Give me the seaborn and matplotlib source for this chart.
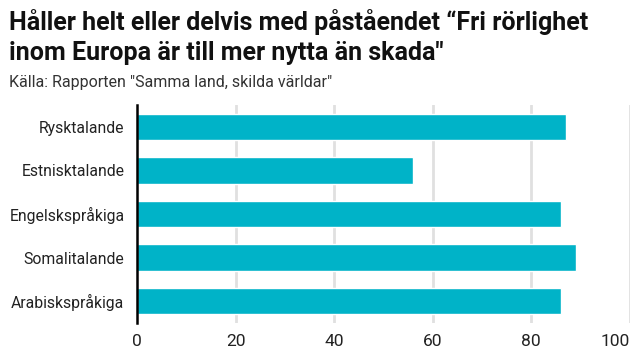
import matplotlib
matplotlib.use('Agg')
import matplotlib.pyplot as plt
import seaborn as sns
import pandas as pd

# data
groups = ['Rysktalande', 'Estnisktalande', 'Engelskspråkiga', 'Somalitalande', 'Arabiskspråkiga']
values = [87, 56, 86, 89, 86]
x_ticks = [0, 20, 40, 60, 80, 100]

title = 'Håller helt eller delvis med påståendet \u201cFri rörlighet\ninom Europa är till mer nytta än skada"'
subtitle = 'Källa: Rapporten "Samma land, skilda världar"'

sns.set_theme(style='white')
plt.rcParams['font.family'] = ['Roboto', 'DejaVu Sans']

df = pd.DataFrame({'group': groups, 'value': values})

fig = plt.figure(figsize=(6.4, 3.6), dpi=100)
ax = fig.add_axes([0.214, 0.103, 0.770, 0.605])

sns.barplot(data=df, x='value', y='group', orient='h', color='#00b3c8',
            width=0.61, saturation=1, ax=ax, zorder=3)

ax.set_xlim(0, 100)
ax.set_ylim(4.5, -0.5)
ax.set_xticks(x_ticks)
ax.set_xticklabels([str(t) for t in x_ticks], fontsize=12.5, color='#222222')
ax.get_xticklabels()[-1].set_horizontalalignment('right')
ax.tick_params(axis='y', labelsize=11.3, labelcolor='#222222', length=0, pad=9)
ax.tick_params(axis='x', length=0, pad=8)
ax.set_xlabel('')
ax.set_ylabel('')

for t in x_ticks[1:]:
    ax.axvline(t, color='#e0e0e0', linewidth=2, zorder=1)

for s in ['top', 'right', 'bottom']:
    ax.spines[s].set_visible(False)
ax.spines['left'].set_color('#000000')
ax.spines['left'].set_linewidth(1.8)
ax.spines['left'].set_zorder(5)

fig.text(0.014, 0.975, title, fontsize=18, fontweight='bold', color='#111111',
         va='top', ha='left', linespacing=1.32)
fig.text(0.014, 0.77, subtitle, fontsize=11.5, color='#333333', va='center', ha='left')

fig.savefig('out.png', dpi=100)
